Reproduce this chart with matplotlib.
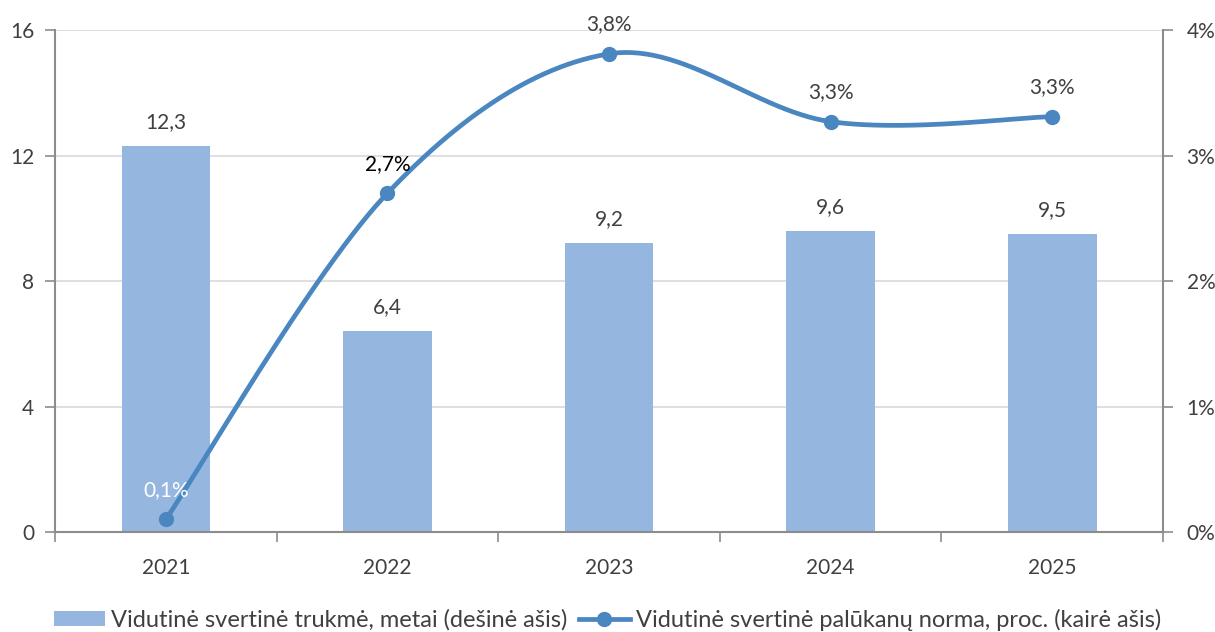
import numpy as np
import matplotlib
matplotlib.use("Agg")
import matplotlib.pyplot as plt
from matplotlib.lines import Line2D
from matplotlib.patches import Patch

plt.rcParams['font.family'] = ['Lato', 'DejaVu Sans']

years = ['2021', '2022', '2023', '2024', '2025']
duration = [12.3, 6.4, 9.2, 9.6, 9.5]
duration_labels = ['12,3', '6,4', '9,2', '9,6', '9,5']
rate = [0.1, 2.7, 3.81, 3.27, 3.31]
rate_labels = ['0,1%', '2,7%', '3,8%', '3,3%', '3,3%']
left_ticks = [0, 4, 8, 12, 16]
right_ticks = [0, 1, 2, 3, 4]
right_tick_labels = ['0%', '1%', '2%', '3%', '4%']
legend_labels = ['Vidutinė svertinė trukmė, metai (dešinė ašis)',
                 'Vidutinė svertinė palūkanų norma, proc. (kairė ašis)']

bar_color = '#95B7DF'
line_color = '#4A86C0'
text_color = '#404040'
axis_color = '#8C8C8C'
grid_color = '#D9D9D9'
FS = 15

fig = plt.figure(figsize=(12.15, 6.32), dpi=100)
ax = fig.add_axes([0.0453, 0.1582, 0.9119, 0.7943])
ax2 = ax.twinx()

x = np.arange(len(years))
ax.bar(x, duration, width=0.4, color=bar_color, zorder=2)
ax.set_xlim(-0.5, len(years) - 0.5)
ax.set_ylim(0, 16)
ax.set_yticks(left_ticks)
ax.set_yticklabels([str(t) for t in left_ticks])
ax.yaxis.grid(True, color=grid_color, linewidth=1.2, zorder=0)
ax.set_axisbelow(True)

# category boundary ticks
ax.set_xticks(np.arange(-0.5, len(years) + 0.5, 1.0))
ax.set_xticklabels([])
ax.set_xticks(x, minor=True)
ax.set_xticklabels(years, minor=True)
ax.tick_params(axis='x', which='major', length=7, color=axis_color, width=1.2, direction='out')
ax.tick_params(axis='x', which='minor', length=0, labelsize=FS, labelcolor=text_color, pad=19)
ax.tick_params(axis='y', length=7, color=axis_color, width=1.2, labelsize=FS, labelcolor=text_color, pad=8)

ax.spines['top'].set_visible(False)
ax2.spines['top'].set_visible(False)
for s in ['left', 'bottom']:
    ax.spines[s].set_color(axis_color)
    ax.spines[s].set_linewidth(1.5)
ax.spines['right'].set_visible(False)
ax2.spines['left'].set_visible(False)
ax2.spines['bottom'].set_visible(False)
ax2.spines['right'].set_color(axis_color)
ax2.spines['right'].set_linewidth(1.5)

for xi, v, lab in zip(x, duration, duration_labels):
    ax.annotate(lab, (xi, v), xytext=(0, 10), textcoords='offset points',
                ha='center', va='bottom', fontsize=FS, color=text_color)

# smooth (Catmull-Rom) line in approximate pixel space
sx, sy = 221.6, 125.5
P = np.column_stack([x * sx, np.array(rate) * sy])
P = np.vstack([P[0], P, P[-1]])
xs, ys = [], []
t = np.linspace(0, 1, 60)
for i in range(1, len(P) - 2):
    p0, p1, p2, p3 = P[i - 1], P[i], P[i + 1], P[i + 2]
    for tt in t:
        pt = 0.5 * ((2 * p1) + (-p0 + p2) * tt + (2 * p0 - 5 * p1 + 4 * p2 - p3) * tt ** 2
                    + (-p0 + 3 * p1 - 3 * p2 + p3) * tt ** 3)
        xs.append(pt[0] / sx)
        ys.append(pt[1] / sy)
ax2.plot(xs, ys, color=line_color, linewidth=3.4, solid_capstyle='round', zorder=3)
ax2.plot(x, rate, 'o', color=line_color, markersize=10, zorder=4)
ax2.set_ylim(0, 4)
ax2.set_yticks(right_ticks)
ax2.set_yticklabels(right_tick_labels)
ax2.tick_params(axis='y', length=7, color=axis_color, width=1.2, labelsize=FS, labelcolor=text_color, pad=10)

rate_label_colors = ['white', 'black', text_color, text_color, text_color]
for xi, v, lab, c in zip(x, rate, rate_labels, rate_label_colors):
    ax2.annotate(lab, (xi, v), xytext=(0, 14), textcoords='offset points',
                 ha='center', va='bottom', fontsize=FS, color=c)

handles = [Patch(facecolor=bar_color, edgecolor='none'),
           Line2D([0], [0], color=line_color, linewidth=3.4, marker='o', markersize=10)]
fig.legend(handles, legend_labels, loc='center', bbox_to_anchor=(0.5, 0.019), ncol=2,
           frameon=False, fontsize=17, labelcolor=text_color, handlelength=2.15,
           handleheight=0.6, handletextpad=0.25, columnspacing=0.5)

fig.savefig('out.png', dpi=100)
